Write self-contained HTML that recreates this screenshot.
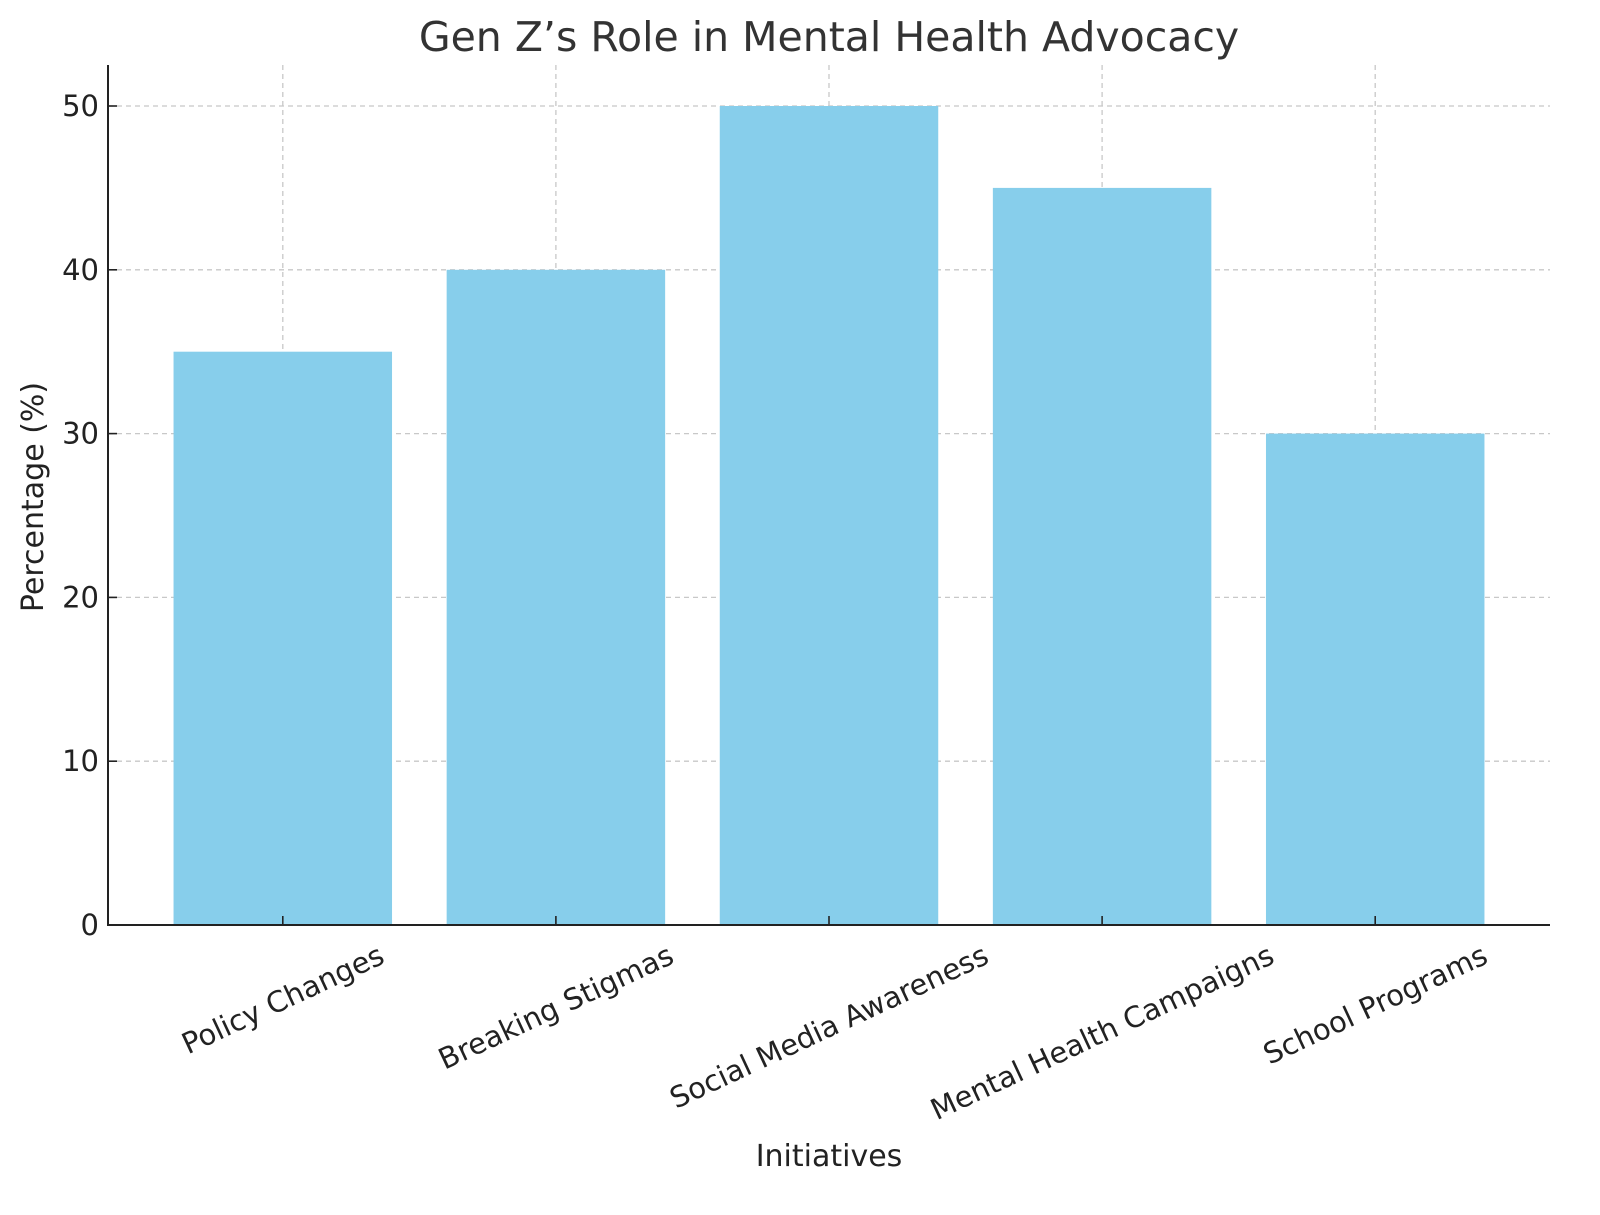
<!DOCTYPE html>
<html><head><meta charset="utf-8"><style>
body{margin:0;background:#fff}
svg{display:block;font-family:"DejaVu Sans","Liberation Sans",sans-serif}
</style></head><body>
<svg id="chart" width="1600" height="1215" viewBox="0 0 1600 1215" xmlns="http://www.w3.org/2000/svg">
<rect width="1600" height="1215" fill="#fff"/>
<text x="829" y="51" font-size="41" fill="#333" text-anchor="middle">Gen Z’s Role in Mental Health Advocacy</text>
<g id="grid"></g><g id="bars"></g><g id="axes"></g>
<text x="829" y="1166" font-size="30" fill="#222" text-anchor="middle">Initiatives</text>
<text transform="translate(43,497) rotate(-90)" font-size="30" fill="#222" text-anchor="middle">Percentage (%)</text>
</svg>
<script>
const categories=["Policy Changes","Breaking Stigmas","Social Media Awareness","Mental Health Campaigns","School Programs"];
const values=[35,40,50,45,30];
const yTicks=[0,10,20,30,40,50];
const NS="http://www.w3.org/2000/svg";
const L=108,R=1550,B=925,T=65;
const y=v=>B-(v/50)*(925-106);
const step=(R-L)/(categories.length-1+1.28);
const x=i=>L+step*(0.64+i);
function mk(tag,attrs,parent){const e=document.createElementNS(NS,tag);for(const k in attrs)e.setAttribute(k,attrs[k]);parent.appendChild(e);return e;}
const grid=document.getElementById('grid'),bars=document.getElementById('bars'),axes=document.getElementById('axes');
yTicks.forEach(t=>{
  const g=mk('line',{x1:L,x2:R,y1:y(t),y2:y(t),stroke:'#c8c8c8','stroke-width':1.3,'stroke-dasharray':'5,4'},grid);
  
  
  const tk=mk('line',{x1:L,x2:L+9,y1:y(t),y2:y(t),stroke:'#222','stroke-width':1.6},axes);
  
  
  const lb=mk('text',{x:L-9,y:y(t)+10,'font-size':29,fill:'#222','text-anchor':'end'},axes);
  lb.textContent=t;
  
  
});
categories.forEach((c,i)=>{
  const cx=x(i),w=step*0.8;
  const b=mk('rect',{x:cx-w/2,y:y(values[i]),width:w,height:B-y(values[i]),fill:'#87ceeb'},bars);
  
  
  const g=mk('line',{x1:cx,x2:cx,y1:T,y2:B,stroke:'#c8c8c8','stroke-width':1.3,'stroke-dasharray':'5,4'},grid);
  
  
  const tk=mk('line',{x1:cx,x2:cx,y1:B,y2:B-9,stroke:'#222','stroke-width':1.6},axes);
  
  
  const lb=mk('text',{'font-size':29,fill:'#222','text-anchor':'middle'},axes);
  lb.textContent=c;
  
  
  const len=lb.getComputedTextLength();
  const a=25*Math.PI/180;
  const cy=940+(len*Math.sin(a)+29*Math.cos(a))/2;
  lb.setAttribute('transform','translate('+cx+','+cy+') rotate(-25)');
  lb.setAttribute('y',10);
});
const ls=mk('line',{x1:L,x2:L,y1:T,y2:B+1,stroke:'#222','stroke-width':2},axes);


const bs=mk('line',{x1:L-1,x2:R,y1:B,y2:B,stroke:'#222','stroke-width':2},axes);


</script>
</body></html>
